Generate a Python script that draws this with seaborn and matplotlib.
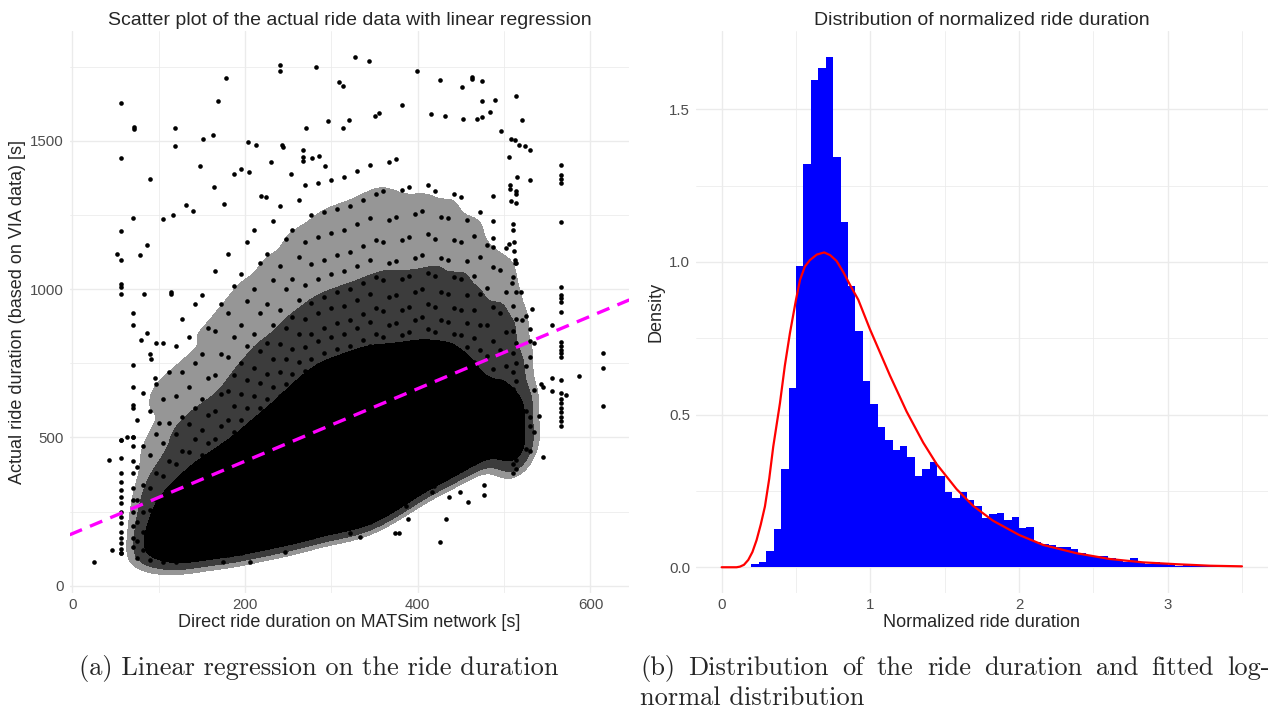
import numpy as np
import pandas as pd
import matplotlib
matplotlib.use("Agg")
import matplotlib.pyplot as plt
from matplotlib.ticker import FixedLocator
from matplotlib.colors import ListedColormap
import seaborn as sns

# ---------------- Left panel data (representative sample) ----------------
# dense band: columns of direct duration [s] with actual durations [s]
band_x = [75, 82, 90, 97, 105, 112, 120, 127, 135, 142, 150, 157, 165, 172, 180, 187, 195, 202,
          210, 217, 225, 232, 240, 247, 255, 262, 270, 277, 285, 292, 300, 307, 315, 322, 330, 337,
          345, 352, 360, 367, 375, 382, 390, 397, 405, 412, 420, 427, 435, 442, 450, 457, 465, 472,
          480, 487, 495, 502, 510, 514, 525, 535]
band_y = [
    [95, 150, 215, 290, 400, 560],
    [120, 180, 250, 340, 470, 650],
    [85, 135, 190, 255, 330, 440, 590, 780],
    [110, 160, 220, 290, 380, 510, 680],
    [80, 125, 175, 230, 295, 370, 480, 630, 820],
    [100, 150, 200, 260, 330, 420, 550, 720],
    [80, 120, 165, 215, 270, 335, 410, 510, 640, 810],
    [100, 140, 190, 240, 300, 370, 455, 570, 720, 900],
    [85, 125, 165, 205, 255, 310, 375, 450, 545, 670, 840],
    [105, 145, 185, 230, 280, 340, 410, 495, 600, 750, 950],
    [95, 135, 175, 215, 260, 310, 370, 440, 525, 630, 780, 980],
    [115, 155, 195, 235, 285, 340, 400, 480, 575, 700, 870],
    [100, 140, 180, 220, 260, 310, 360, 420, 495, 590, 710, 860, 1060],
    [120, 160, 200, 240, 285, 335, 390, 455, 540, 645, 780, 950],
    [105, 145, 185, 225, 265, 310, 360, 415, 480, 560, 655, 770, 920, 1120],
    [125, 165, 205, 245, 285, 335, 385, 445, 520, 605, 710, 840, 1010],
    [110, 150, 190, 230, 270, 315, 365, 420, 485, 560, 645, 750, 880, 1050],
    [130, 170, 210, 250, 290, 340, 390, 450, 520, 600, 695, 810, 960, 1160],
    [125, 165, 205, 245, 285, 330, 380, 430, 490, 560, 640, 735, 850, 1000, 1200],
    [145, 185, 225, 265, 305, 355, 405, 460, 525, 600, 685, 790, 920, 1090],
    [130, 170, 210, 250, 290, 330, 380, 430, 490, 555, 630, 715, 820, 950, 1120],
    [150, 190, 230, 270, 310, 355, 405, 460, 520, 590, 670, 765, 880, 1030, 1230],
    [140, 180, 220, 260, 300, 345, 395, 445, 505, 570, 640, 720, 815, 930, 1080, 1280],
    [160, 200, 240, 280, 320, 370, 420, 475, 535, 605, 680, 765, 870, 1000, 1170],
    [150, 190, 230, 270, 310, 355, 405, 455, 510, 570, 640, 715, 800, 905, 1035, 1200],
    [170, 210, 250, 290, 330, 380, 430, 480, 540, 605, 675, 755, 850, 965, 1110, 1300],
    [160, 200, 240, 280, 320, 370, 420, 470, 530, 590, 655, 725, 805, 900, 1015, 1160, 1350],
    [180, 220, 260, 300, 345, 395, 445, 500, 560, 620, 690, 765, 850, 955, 1085, 1250],
    [175, 215, 255, 295, 340, 390, 440, 490, 550, 610, 675, 745, 825, 920, 1035, 1175, 1360],
    [195, 235, 275, 315, 365, 415, 465, 520, 580, 640, 710, 785, 870, 975, 1100, 1260],
    [185, 225, 265, 305, 350, 400, 450, 505, 565, 625, 690, 760, 840, 935, 1050, 1190, 1370],
    [205, 245, 285, 325, 375, 425, 475, 535, 595, 655, 725, 800, 885, 990, 1115, 1270],
    [190, 230, 270, 310, 355, 405, 455, 510, 570, 630, 700, 770, 850, 945, 1060, 1200, 1380],
    [210, 250, 290, 330, 380, 430, 480, 540, 600, 665, 735, 810, 895, 1000, 1125, 1280],
    [200, 240, 280, 320, 370, 420, 470, 530, 590, 650, 720, 790, 870, 965, 1080, 1220, 1400],
    [220, 260, 300, 345, 395, 445, 500, 560, 620, 685, 755, 830, 915, 1020, 1145, 1300],
    [215, 255, 295, 340, 390, 440, 490, 550, 610, 670, 740, 810, 890, 985, 1100, 1240, 1420],
    [235, 275, 315, 365, 415, 465, 520, 580, 640, 705, 775, 850, 935, 1040, 1165, 1320],
    [240, 280, 320, 365, 415, 465, 515, 575, 635, 695, 765, 840, 925, 1030, 1160, 1330],
    [260, 300, 345, 395, 440, 490, 545, 605, 665, 730, 800, 880, 975, 1090, 1235, 1430],
    [265, 305, 345, 395, 445, 495, 550, 610, 670, 735, 805, 885, 980, 1095, 1245, 1440],
    [285, 325, 370, 420, 470, 520, 575, 635, 700, 770, 845, 930, 1035, 1165, 1335],
    [295, 335, 380, 430, 480, 530, 590, 650, 710, 780, 855, 940, 1045, 1175, 1345],
    [315, 355, 405, 455, 505, 560, 620, 680, 745, 815, 895, 990, 1105, 1255],
    [325, 365, 415, 465, 515, 570, 630, 690, 755, 825, 905, 1000, 1115, 1265],
    [345, 390, 440, 490, 540, 600, 660, 720, 790, 865, 950, 1055, 1185, 1350],
    [345, 385, 435, 485, 535, 590, 650, 710, 780, 855, 940, 1045, 1170, 1330],
    [365, 410, 460, 510, 560, 620, 680, 745, 815, 895, 990, 1105, 1245],
    [365, 405, 455, 505, 555, 615, 675, 740, 810, 890, 985, 1100, 1240],
    [385, 430, 480, 530, 585, 645, 705, 775, 850, 935, 1040, 1165, 1320],
    [390, 430, 480, 530, 580, 640, 700, 770, 845, 930, 1035, 1160, 1310],
    [410, 455, 505, 555, 610, 670, 735, 805, 885, 980, 1095, 1235],
    [415, 460, 510, 560, 620, 685, 755, 835, 930, 1045, 1180],
    [435, 485, 535, 590, 650, 720, 795, 880, 985, 1110, 1260],
    [435, 490, 550, 615, 690, 775, 880, 1005, 1150],
    [460, 520, 580, 650, 730, 825, 940, 1075, 1230],
    [445, 520, 600, 690, 795, 920, 1065],
    [480, 560, 645, 740, 855, 990, 1140],
    [380, 410, 440, 470, 500, 530, 560, 590, 620, 665, 720, 785, 860, 945, 1040],
    [395, 425, 455, 485, 515, 545, 575, 605, 640, 690, 750, 820, 900, 990, 1090],
    [460, 590, 740, 910],
    [520, 660, 820],
]

# vertical stripes on the left
stripe_x = [57, 70]
stripe_y = [
    [492, 430, 379, 350, 323, 300, 278, 250, 230, 210, 180, 160, 143, 125, 109],
    [921, 880, 745, 671, 610, 598, 503, 470, 420, 380, 330, 290, 250, 200, 160, 130],
]

# individual sparse points (direct [s], actual [s])
sparse_pts = [
    (56.5, 1627), (71, 1546), (71, 1540), (57, 1441), (90, 1371), (177.5, 1712), (168.6, 1634),
    (119, 1544), (119, 1482), (151, 1506), (163, 1521), (148, 1417), (164, 1346), (241, 1757),
    (241, 1735), (282, 1751), (327, 1785), (309, 1698), (313, 1687), (296, 1569), (321, 1571),
    (270.5, 1544), (314, 1544), (204, 1498), (213, 1487), (230, 1430), (243, 1487), (244, 1479),
    (267, 1470), (267, 1447), (267, 1434), (278, 1444), (286, 1450), (293, 1414), (195, 1405),
    (187.5, 1389), (205, 1397), (253, 1389), (219, 1316), (224, 1312), (176, 1289), (132, 1283),
    (140, 1263), (117, 1251), (105, 1238), (70.6, 1241), (56.7, 1196), (86.8, 1148), (78, 1115),
    (51.7, 1118), (56.7, 1098), (56.7, 1016), (56.7, 1009), (56.7, 983), (83, 983), (114, 992),
    (114, 983), (344, 1769), (398.6, 1735), (426, 1706), (451, 1682), (463.4, 1717), (463.4, 1708),
    (474.5, 1704), (513.5, 1652), (521, 1571), (497, 1535), (474.5, 1634), (489, 1638),
    (483.4, 1599), (474.5, 1581), (468.4, 1573), (452.5, 1573), (431.7, 1584), (415.5, 1591),
    (382, 1621), (350.3, 1584), (354.6, 1596), (507.8, 1507), (513, 1504), (517, 1487),
    (524.3, 1483), (530.5, 1468), (505.4, 1447), (514.4, 1380), (530.5, 1370), (507, 1352),
    (507, 1337), (514, 1330), (514, 1320), (508, 1298), (514, 1291), (510.4, 1219), (510.4, 1200),
    (506, 1154), (512, 1160), (512, 1130), (513, 1088), (513, 1099), (508.6, 1020), (520, 992),
    (566.4, 1420), (566.4, 1385), (566.4, 1373), (566.4, 1358), (566.4, 1227), (566.4, 1009),
    (566.4, 981), (566.4, 970), (566.4, 958), (566.4, 924), (487, 1316), (487, 1142), (487, 1172),
    (566.4, 823), (566.4, 807), (566.4, 796), (566.4, 784), (566.4, 773), (566.4, 694),
    (566.4, 649), (566.4, 630), (566.4, 615), (566.4, 600), (566.4, 585), (566.4, 570),
    (566.4, 555), (566.4, 540), (555.6, 881), (532, 932), (530.5, 865), (530.5, 827),
    (530.5, 773), (521, 896), (555.2, 700), (555.2, 655), (572, 642), (543, 679), (545.6, 669),
    (541, 574), (545, 435), (530.5, 570), (530.5, 539), (530.5, 454), (586.8, 707), (614.6, 786),
    (614.6, 735), (614.6, 606), (425.6, 147), (433, 225), (388.5, 224), (386.6, 270),
    (373.5, 177), (378.5, 177), (333, 163), (321.5, 179), (416, 315), (419, 337), (436.3, 298),
    (448.7, 315), (458.3, 283), (477, 339), (477, 305), (500, 448), (25.5, 81), (42, 424),
    (56.4, 492), (63, 503), (70.6, 503), (45.6, 120), (56.4, 109), (175, 81), (205.7, 81),
    (246.5, 115), (271, 160), (278, 163), (80, 829), (86, 854), (90.7, 764), (97.2, 818),
    (95.3, 700), (101, 549),
]

# linear regression line
reg_intercept = 175.3
reg_slope = 1.2228

# ---------------- Right panel data ----------------
bin_first = 0.20
bin_width = 0.05
hist_density = [
    0.011, 0.016, 0.053, 0.124, 0.321, 0.586, 0.988, 1.322, 1.596, 1.635, 1.672, 1.345,
    1.130, 0.920, 0.774, 0.609, 0.534, 0.459, 0.416, 0.384, 0.397, 0.362, 0.299, 0.321,
    0.345, 0.299, 0.247, 0.228, 0.246, 0.219, 0.202, 0.161, 0.173, 0.179, 0.155, 0.164,
    0.129, 0.131, 0.082, 0.076, 0.073, 0.065, 0.065, 0.059, 0.046, 0.040, 0.038, 0.038,
    0.029, 0.024, 0.018, 0.029, 0.013, 0.011, 0.017, 0.010, 0.008, 0.005, 0.006, 0.005,
    0.004, 0.004, 0.004, 0.003, 0.003, 0.003,
]

# fitted log-normal curve
curve_x = [0.00, 0.10, 0.123, 0.15, 0.179, 0.207, 0.235, 0.263, 0.291, 0.32, 0.347, 0.392,
           0.425, 0.459, 0.500, 0.527, 0.56, 0.594, 0.64, 0.690, 0.73, 0.773, 0.82, 0.863,
           0.919, 0.997, 1.132, 1.244, 1.356, 1.446, 1.580, 1.692, 1.804, 1.827, 2.0, 2.163,
           2.387, 2.611, 2.835, 3.059, 3.286, 3.5]
curve_y = [0.000, 0.000, 0.002, 0.008, 0.024, 0.050, 0.089, 0.140, 0.199, 0.290, 0.395, 0.537,
           0.660, 0.766, 0.876, 0.941, 0.985, 1.006, 1.024, 1.031, 1.022, 1.003, 0.965, 0.925,
           0.876, 0.780, 0.628, 0.510, 0.408, 0.338, 0.256, 0.201, 0.160, 0.152, 0.106, 0.073,
           0.046, 0.027, 0.016, 0.010, 0.005, 0.003]

# ---------------- Build tables ----------------
band_df = pd.DataFrame([(x, y) for x, ys in zip(band_x, band_y) for y in ys], columns=["x", "y"])
stripe_df = pd.DataFrame([(x, y) for x, ys in zip(stripe_x, stripe_y) for y in ys], columns=["x", "y"])
sparse_df = pd.DataFrame(sparse_pts, columns=["x", "y"])
points_df = pd.concat([band_df, stripe_df, sparse_df], ignore_index=True)

n_bins = len(hist_density)
edges = [round(bin_first + bin_width * i, 4) for i in range(n_bins + 1)]
centers = [(a + b) / 2 for a, b in zip(edges[:-1], edges[1:])]
hist_df = pd.DataFrame({"x": centers, "density": hist_density})
curve_df = pd.DataFrame({"x": curve_x, "y": curve_y})

# ---------------- Style ----------------
sns.set_theme(style="white")
plt.rcParams["font.family"] = ["Liberation Sans", "DejaVu Sans"]

GRID = "#ebebeb"
TICK = "#4d4d4d"
TITLE_SIZE = 14
LABEL_SIZE = 13
TICK_SIZE = 10.8

fig = plt.figure(figsize=(12.83, 7.13), dpi=100)
ax1 = fig.add_axes([0.0543, 0.1686, 0.4362, 0.7879])
ax2 = fig.add_axes([0.5422, 0.1686, 0.4461, 0.7879])


def style_axes(ax, xmaj, xmin, ymaj, ymin, ylabels=None):
    for s in ax.spines.values():
        s.set_visible(False)
    ax.set_axisbelow(True)
    ax.xaxis.set_major_locator(FixedLocator(xmaj))
    ax.xaxis.set_minor_locator(FixedLocator(xmin))
    ax.yaxis.set_major_locator(FixedLocator(ymaj))
    ax.yaxis.set_minor_locator(FixedLocator(ymin))
    if ylabels is not None:
        ax.set_yticklabels(ylabels)
    ax.grid(which="major", color=GRID, linewidth=1.0)
    ax.grid(which="minor", color=GRID, linewidth=0.55)
    ax.tick_params(which="both", length=0, labelsize=TICK_SIZE, labelcolor=TICK)
    ax.tick_params(axis="x", pad=4)
    ax.tick_params(axis="y", pad=4)


# ---------------- Left: scatter + regression ----------------
# density shading of the crowded band (stacked: grey, dark grey, black core)
for lvl, col in [(0.08, "#969696"), (0.22, "#3c3c3c"), (0.42, "#000000")]:
    sns.kdeplot(data=band_df, x="x", y="y", fill=True, levels=[lvl, 1.0],
                cmap=ListedColormap([col]), bw_adjust=0.45, ax=ax1)
sns.scatterplot(data=points_df, x="x", y="y", s=11, color="black", linewidth=0, ax=ax1)
ax1.axline((0, reg_intercept), slope=reg_slope, color="#FF00FF", linewidth=2.4,
           linestyle=(0, (4, 2.6)))
ax1.set_xlim(-3, 645)
ax1.set_ylim(-24, 1871)
style_axes(ax1, [0, 200, 400, 600], [100, 300, 500], [0, 500, 1000, 1500],
           [250, 750, 1250, 1750])
ax1.set_title("Scatter plot of the actual ride data with linear regression",
              fontsize=TITLE_SIZE, pad=4.5)
ax1.set_xlabel("Direct ride duration on MATSim network [s]", fontsize=LABEL_SIZE, labelpad=1)
ax1.set_ylabel("Actual ride duration (based on VIA data) [s]", fontsize=LABEL_SIZE, labelpad=3)

# ---------------- Right: histogram + log-normal ----------------
sns.histplot(data=hist_df, x="x", weights="density", bins=edges, stat="count",
             color="#0000FF", alpha=1, linewidth=0, edgecolor="#0000FF", ax=ax2)
sns.lineplot(data=curve_df, x="x", y="y", color="red", linewidth=1.6, ax=ax2)
ax2.set_xlim(-0.175, 3.675)
ax2.set_ylim(-0.0836, 1.756)
style_axes(ax2, [0, 1, 2, 3], [0.5, 1.5, 2.5, 3.5], [0, 0.5, 1.0, 1.5], [0.25, 0.75, 1.25],
           ylabels=["0.0", "0.5", "1.0", "1.5"])
ax2.set_title("Distribution of normalized ride duration", fontsize=TITLE_SIZE, pad=4.5)
ax2.set_xlabel("Normalized ride duration", fontsize=LABEL_SIZE, labelpad=1)
ax2.set_ylabel("Density", fontsize=LABEL_SIZE, labelpad=3)

# ---------------- Captions ----------------
cap_font = dict(family=["cmr10", "DejaVu Serif"], size=19)
fig.text(319 / 1283, 1 - 668 / 713, "(a) Linear regression on the ride duration",
         ha="center", va="center", **cap_font)

# caption (b): first line justified between x=640 and x=1270 px
line1 = "(b) Distribution of the ride duration and fitted log-"
words = line1.split(" ")
word_texts = [fig.text(0, 1 - 668 / 713, w, ha="left", va="center", **cap_font) for w in words]
fig.canvas.draw()
renderer = fig.canvas.get_renderer()
widths = [t.get_window_extent(renderer).width for t in word_texts]
left_px, right_px = 640, 1270
gap = (right_px - left_px - sum(widths)) / (len(words) - 1)
xpos = left_px
for t, w in zip(word_texts, widths):
    t.set_x(xpos / 1283)
    xpos += w + gap
fig.text(640 / 1283, 1 - 698 / 713, "normal distribution", ha="left", va="center", **cap_font)

fig.savefig("out.png", dpi=100)
